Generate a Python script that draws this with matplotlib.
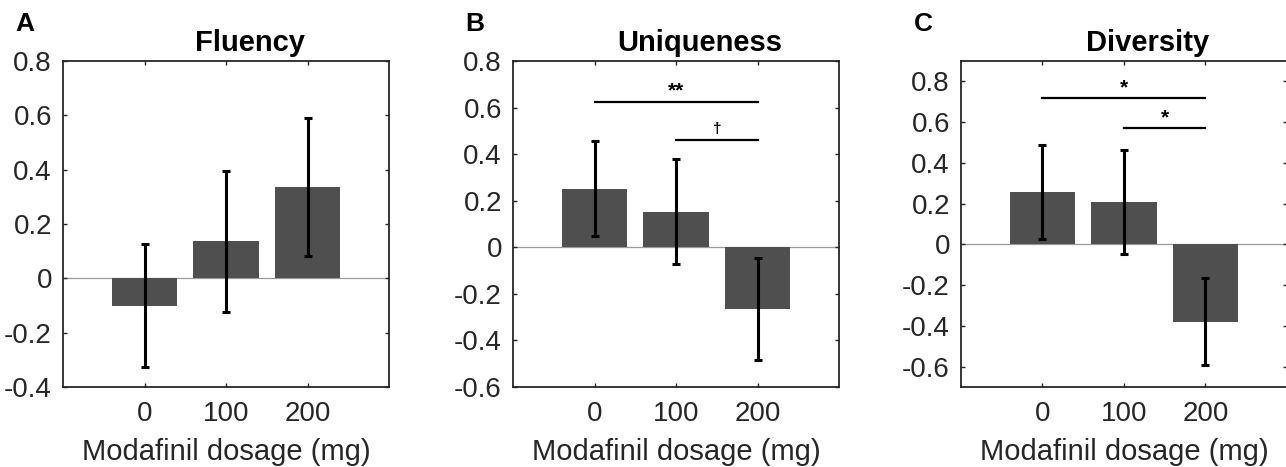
import matplotlib.pyplot as plt
import numpy as np

plt.rcParams['font.family'] = ['Liberation Sans', 'DejaVu Sans']

# data
doses = ['0', '100', '200']
titles = ['Fluency', 'Uniqueness', 'Diversity']
letters = ['A', 'B', 'C']

fluency_mean = [-0.10, 0.136, 0.337]
fluency_err = [0.228, 0.260, 0.253]
uniq_mean = [0.252, 0.152, -0.265]
uniq_err = [0.204, 0.225, 0.220]
div_mean = [0.256, 0.208, -0.380]
div_err = [0.231, 0.253, 0.213]

ylims = [(-0.4, 0.8), (-0.6, 0.8), (-0.7, 0.9)]
yticks = [np.arange(-0.4, 0.81, 0.2), np.arange(-0.6, 0.81, 0.2), np.arange(-0.6, 0.81, 0.2)]

# significance brackets: (x0, x1, y, label, label_y, label_size)
sig_B = [(1, 3, 0.624, '**', 0.67, 15), (2, 3, 0.459, '\u2020', 0.51, 11)]
sig_C = [(1, 3, 0.720, '*', 0.77, 15), (2, 3, 0.569, '*', 0.62, 15)]
sigs = [[], sig_B, sig_C]

means = [fluency_mean, uniq_mean, div_mean]
errs = [fluency_err, uniq_err, div_err]

W, H = 1286, 467
fig = plt.figure(figsize=(W / 100, H / 100), dpi=100)
lefts = [63, 513, 961]
bar_col = '#4f4f4f'
txt_col = '#262626'

for i in range(3):
    ax = fig.add_axes([lefts[i] / W, (H - 387) / H, 326 / W, 326 / H])
    x = np.arange(1, 4)
    ax.bar(x, means[i], width=0.8, color=bar_col, zorder=2)
    ax.errorbar(x, means[i], yerr=errs[i], fmt='none', ecolor='black',
                elinewidth=2.2, capsize=2.8, capthick=2.2, zorder=3)
    ax.axhline(0, color='#9a9a9a', linewidth=0.9, zorder=1)
    for x0, x1, yy, lab, ly, fs in sigs[i]:
        ax.plot([x0, x1], [yy, yy], color='black', linewidth=1.6, zorder=3)
        ax.text((x0 + x1) / 2, ly, lab, ha='center', va='center',
                fontsize=fs, fontweight='bold')
    ax.set_xlim(0, 4)
    ax.set_ylim(*ylims[i])
    ax.set_xticks(x)
    ax.set_xticklabels(doses)
    ax.set_yticks(yticks[i])
    ax.set_yticklabels(['0' if abs(t) < 1e-9 else f'{t:.1f}' for t in yticks[i]])
    ax.tick_params(direction='in', length=3, width=1, colors=txt_col,
                   labelsize=20, top=True, right=True, pad=8)
    ax.tick_params(axis='x', pad=10)
    for s in ax.spines.values():
        s.set_linewidth(1.3)
        s.set_color(txt_col)
    ax.set_xlabel('Modafinil dosage (mg)', fontsize=21, color=txt_col, labelpad=8)
    ax.text(0.574, 1.012, titles[i], transform=ax.transAxes, ha='center',
            va='bottom', fontsize=21, fontweight='bold')
    fig.text((lefts[i] - 38) / W, 1 - 24 / H, letters[i], ha='center', va='center',
             fontsize=19, fontweight='bold')

fig.savefig('out.png', dpi=100)
